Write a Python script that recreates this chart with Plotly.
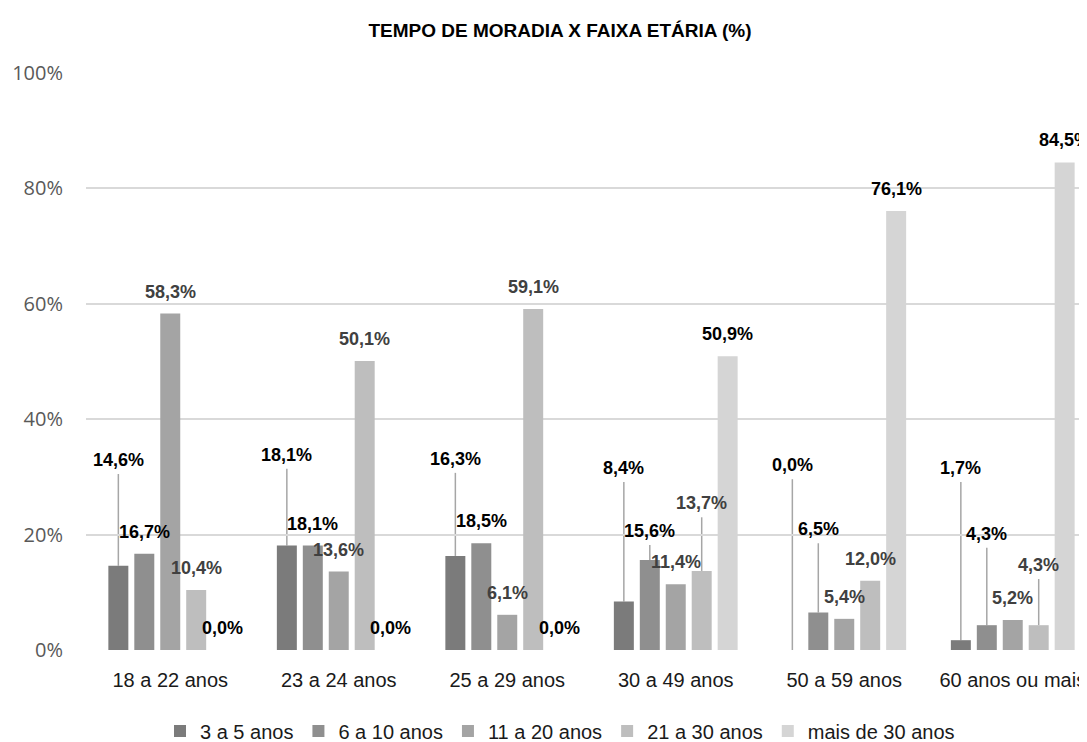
import plotly.graph_objects as go

# ---------------- data ----------------
categories = ["18 a 22 anos", "23 a 24 anos", "25 a 29 anos", "30 a 49 anos", "50 a 59 anos", "60 anos ou mais"]
series_names = ["3 a 5 anos", "6 a 10 anos", "11 a 20 anos", "21 a 30 anos", "mais de 30 anos"]

s_3a5 = [14.6, 18.1, 16.3, 8.4, 0.0, 1.7]
s_6a10 = [16.7, 18.1, 18.5, 15.6, 6.5, 4.3]
s_11a20 = [58.3, 13.6, 6.1, 11.4, 5.4, 5.2]
s_21a30 = [10.4, 50.1, 59.1, 13.7, 12.0, 4.3]
s_mais30 = [0.0, 0.0, 0.0, 50.9, 76.1, 84.5]
series_values = [s_3a5, s_6a10, s_11a20, s_21a30, s_mais30]

y_ticks = [0, 0.2, 0.4, 0.6, 0.8, 1.0]

# ---------------- styles ----------------
bar_colors = ["#7b7b7b", "#8f8f8f", "#a4a4a4", "#bebebe", "#d5d5d5"]
label_colors = ["#000000", "#000000", "#404040", "#404040", "#000000"]
SANS = "Liberation Sans, Arial, sans-serif"

# labels moved up with leader lines: (series, category) -> leader top (fraction)
moved_labels = {
    (0, 0): 0.305, (0, 1): 0.314, (0, 2): 0.307,
    (0, 3): 0.291, (1, 3): 0.182, (3, 3): 0.230,
    (0, 4): 0.296, (1, 4): 0.185,
    (0, 5): 0.291, (1, 5): 0.177, (3, 5): 0.123,
}

BARGAP = 0.23
BARGROUPGAP = 0.23
n_series = len(series_names)
slot = (1 - BARGAP) / n_series

fig = go.Figure()
xs = list(range(len(categories)))
for i, (name, vals) in enumerate(zip(series_names, series_values)):
    fig.add_trace(go.Bar(
        x=xs, y=[v / 100 for v in vals], name=name,
        marker=dict(color=bar_colors[i], line=dict(width=0)),
        hoverinfo="skip",
    ))

annotations = []
shapes = []
for i, vals in enumerate(series_values):
    for j, v in enumerate(vals):
        xc = j + (i - (n_series - 1) / 2) * slot
        txt = f"{v:.1f}".replace(".", ",") + "%"
        lab_font = dict(family=SANS, size=18, color=label_colors[i], weight="bold")
        if (i, j) in moved_labels:
            top = moved_labels[(i, j)]
            shapes.append(dict(type="line", xref="x", yref="y", x0=xc, x1=xc,
                               y0=v / 100, y1=top,
                               line=dict(color="#a6a6a6", width=1.5), layer="below"))
            annotations.append(dict(x=xc, y=top, xref="x", yref="y", text=txt,
                                    showarrow=False, yanchor="middle", yshift=14,
                                    font=lab_font))
        else:
            annotations.append(dict(x=xc, y=v / 100, xref="x", yref="y", text=txt,
                                    showarrow=False, yanchor="middle", yshift=22,
                                    font=lab_font))

# the page body adds an 8px offset, so the figure is drawn 8px smaller
W, H = 1079, 734
L, T, B = 78, 65, 92
cat_px = 168.5
x_max = -0.5 + (W - L) / cat_px
plot_h = H - T - B

fig.update_layout(
    width=W, height=H,
    margin=dict(l=L, r=0, t=T, b=B, pad=0, autoexpand=False),
    paper_bgcolor="white", plot_bgcolor="white",
    barmode="group", bargap=BARGAP, bargroupgap=BARGROUPGAP,
    separators=",.",
    title=dict(text="TEMPO DE MORADIA X FAIXA ETÁRIA (%)", x=552 / W, xanchor="center",
               y=1 - 22 / H, yanchor="middle", xref="container", yref="container",
               font=dict(family=SANS, size=19, color="#000000", weight="bold")),
    xaxis=dict(range=[-0.5, x_max], tickvals=xs, ticktext=categories,
               showgrid=False, zeroline=False, showline=False, ticks="",
               tickfont=dict(family=SANS, size=20, color="#1a1a1a"),
               ticklabelstandoff=16, fixedrange=True, automargin=False),
    yaxis=dict(range=[0, 1], tickvals=y_ticks, tickformat=".0%",
               showgrid=True, gridcolor="#d9d9d9", gridwidth=1.5,
               zeroline=False, showline=False, ticks="",
               tickfont=dict(family="Open Sans", size=20, color="#595959"),
               ticklabelstandoff=22, fixedrange=True, automargin=False),
    legend=dict(orientation="h", x=(552 - L) / (W - L), xanchor="center",
                y=(642 - 723) / plot_h, yanchor="middle",
                font=dict(family=SANS, size=20, color="#1a1a1a"),
                itemwidth=30, traceorder="normal"),
    annotations=annotations, shapes=shapes,
    showlegend=True,
)

fig.write_html("out.html")
